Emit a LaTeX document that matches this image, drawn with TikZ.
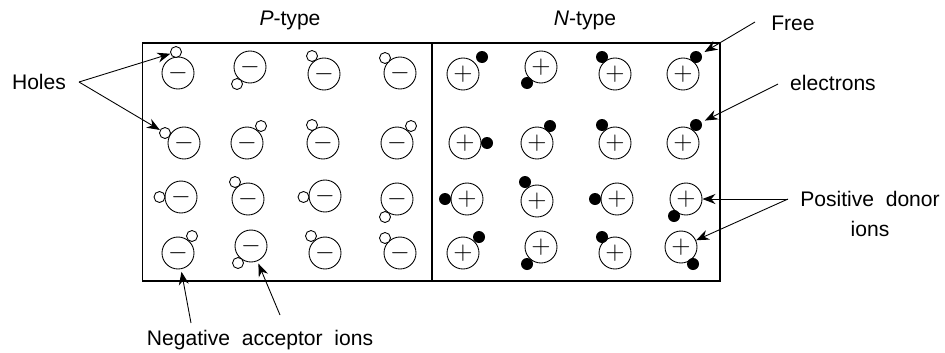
\documentclass[tikz,border=0pt]{standalone}
\usepackage{fontspec}
\setmainfont{Liberation Sans}
\usetikzlibrary{arrows.meta,positioning}

\begin{document}
\begin{tikzpicture}[
    x=0.02cm, y=-0.02cm,
    regionbox/.style={
        rectangle, draw, line width=0.6pt, inner sep=0pt,
        minimum height=4.76cm
    },
    ionnode/.style={
        circle, draw, line width=0.5pt, minimum size=0.64cm,
        inner sep=0pt, font=\Large
    },
    holenode/.style={
        circle, draw, line width=0.5pt, fill=white,
        minimum size=0.22cm, inner sep=0pt
    },
    elecnode/.style={
        circle, fill=black, minimum size=0.24cm, inner sep=0pt
    },
    lbl/.style={font=\fontsize{12}{17.5}\selectfont, align=center},
    ptr/.style={-{Stealth[length=2.6mm,width=2mm]}, line width=0.5pt}
]
\useasboundingbox (0,0) rectangle (945,352);

% Two halves of the crystal
\node[regionbox, minimum width=5.8cm]  (pside) at (287,162) {};
\node[regionbox, minimum width=5.76cm] (nside) at (576,162) {};
\node[lbl] (ptitle) at (290,20) {\textit{P}-type};
\node[lbl] (ntitle) at (585,20) {\textit{N}-type};

% P-type: negative acceptor ions
\node[ionnode] (p11) at (178,73)  {$-$};
\node[ionnode] (p12) at (250,67)  {$-$};
\node[ionnode] (p13) at (324,74)  {$-$};
\node[ionnode] (p14) at (400,73)  {$-$};
\node[ionnode] (p21) at (184,143) {$-$};
\node[ionnode] (p22) at (247,143) {$-$};
\node[ionnode] (p23) at (323,143) {$-$};
\node[ionnode] (p24) at (397,143) {$-$};
\node[ionnode] (p31) at (181,197) {$-$};
\node[ionnode] (p32) at (248,199) {$-$};
\node[ionnode] (p33) at (325,196) {$-$};
\node[ionnode] (p34) at (397,199) {$-$};
\node[ionnode] (p41) at (178,253) {$-$};
\node[ionnode] (p42) at (251,246) {$-$};
\node[ionnode] (p43) at (325,253) {$-$};
\node[ionnode] (p44) at (400,253) {$-$};

% P-type: holes
\node[holenode] (h11) at (176,52)  {};
\node[holenode] (h12) at (237,84)  {};
\node[holenode] (h13) at (312,56)  {};
\node[holenode] (h14) at (385,58)  {};
\node[holenode] (h21) at (165,133) {};
\node[holenode] (h22) at (261,126) {};
\node[holenode] (h23) at (312,125) {};
\node[holenode] (h24) at (411,126) {};
\node[holenode] (h31) at (159.5,197) {};
\node[holenode] (h32) at (235,182) {};
\node[holenode] (h33) at (303.5,197) {};
\node[holenode] (h34) at (385,217) {};
\node[holenode] (h41) at (192,236) {};
\node[holenode] (h42) at (238,263) {};
\node[holenode] (h43) at (311,236) {};
\node[holenode] (h44) at (385,238) {};

% N-type: positive donor ions
\node[ionnode] (n11) at (463,74)  {$+$};
\node[ionnode] (n12) at (541,67)  {$+$};
\node[ionnode] (n13) at (615,74)  {$+$};
\node[ionnode] (n14) at (683,74)  {$+$};
\node[ionnode] (n21) at (465,143) {$+$};
\node[ionnode] (n22) at (537,143) {$+$};
\node[ionnode] (n23) at (615,143) {$+$};
\node[ionnode] (n24) at (683,143) {$+$};
\node[ionnode] (n31) at (467,199) {$+$};
\node[ionnode] (n32) at (537,201) {$+$};
\node[ionnode] (n33) at (617,199) {$+$};
\node[ionnode] (n34) at (686,199) {$+$};
\node[ionnode] (n41) at (463,253) {$+$};
\node[ionnode] (n42) at (541,247) {$+$};
\node[ionnode] (n43) at (615,253) {$+$};
\node[ionnode] (n44) at (681,247) {$+$};

% N-type: free electrons
\node[elecnode] (e11) at (482,57)  {};
\node[elecnode] (e12) at (527,83)  {};
\node[elecnode] (e13) at (602,57)  {};
\node[elecnode] (e14) at (696,57)  {};
\node[elecnode] (e21) at (487,143) {};
\node[elecnode] (e22) at (550,126) {};
\node[elecnode] (e23) at (602,125) {};
\node[elecnode] (e24) at (696,125) {};
\node[elecnode] (e31) at (445,199) {};
\node[elecnode] (e32) at (525,182) {};
\node[elecnode] (e33) at (595,199) {};
\node[elecnode] (e34) at (674,216) {};
\node[elecnode] (e41) at (479,237) {};
\node[elecnode] (e42) at (527,264) {};
\node[elecnode] (e43) at (602,237) {};
\node[elecnode] (e44) at (693,264) {};

% Labels
\node[lbl] (holes) at (39,82)  {Holes};
\node[lbl] (negacc) at (260,340) {Negative\ \ acceptor\ \ ions};
\node[lbl] (free) at (793,23)  {Free};
\node[lbl] (elec) at (833,83)  {electrons};
\node[lbl] (posdon) at (870,214) {Positive\ \ donor\\ions};

% Arrow start points beside the labels
\coordinate (holesfork) at (79,82);
\coordinate (negacc1) at (191,323);
\coordinate (negacc2) at (280,315);
\coordinate (freestart) at (755,22);
\coordinate (elecstart) at (778,84);
\coordinate (posfork) at (788,199);

% Pointers
\draw[ptr] (holesfork) -- (h11);
\draw[ptr] (holesfork) -- (h21);
\draw[ptr, shorten >=1.5pt] (negacc1) -- (p41);
\draw[ptr, shorten >=1.5pt] (negacc2) -- (p42);
\draw[ptr, shorten >=2pt] (freestart) -- (e14);
\draw[ptr, shorten >=2pt] (elecstart) -- (e24);
\draw[ptr] (posfork) -- (n34);
\draw[ptr] (posfork) -- (n44);
\end{tikzpicture}
\end{document}
